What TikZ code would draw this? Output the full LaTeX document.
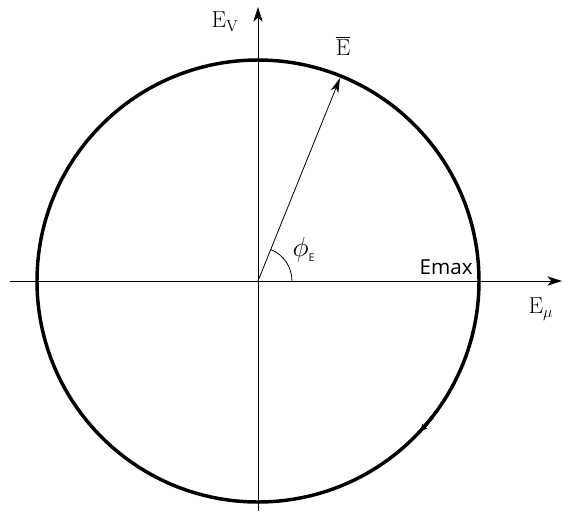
\documentclass[tikz,border=0pt]{standalone}
\usepackage{fontspec}
\newfontfamily\labelsans{Open Sans}
\usetikzlibrary{arrows.meta}

\tikzset{
  axis/.style={line width=0.6pt,-{Stealth[length=11pt,width=7pt,inset=3pt]}},
  ring/.style={line width=2.6pt},
}

\begin{document}
\begin{tikzpicture}[x=0.75pt,y=0.75pt,yscale=-1,xscale=1]
			\useasboundingbox (0,0) rectangle (563,515);
			
			\coordinate (O) at (258,281);
			\coordinate (xstart) at (10,281);
			\coordinate (xend) at (562,281);
			\coordinate (ystart) at (258,511);
			\coordinate (yend) at (258,7);
			\coordinate (Etip) at ([shift={(-68:219)}]O);
			
			%Shape: Circle
			\draw [ring] (O) circle [radius=221];
			%Straight Lines
			\draw [axis] (xstart) -- (xend);
			\draw [axis] (ystart) -- (yend);
			
			%Straight Lines
			\draw [line width=0.6pt,-{Stealth[length=11pt,width=6pt,inset=3pt]}] (O) -- (Etip);
			%Curve Lines
			\draw [line width=0.6pt] ([shift={(34,0)}]O) arc [start angle=0, end angle=-68, radius=34];
			%Curve Lines
			\draw [line width=2.6pt,-{Stealth[length=6pt,width=5pt]}] ([shift={(38:221)}]O) arc [start angle=38, end angle=43, radius=221];
			
			% Text Node
			\node (Ev) at (225,22) [inner sep=0.75pt] {\LARGE$\mathrm{E}_{\mathrm{V}}$};
			% Text Node
			\node (Ebar) at (343,46) [inner sep=0.75pt] {\LARGE$\overline{\mathrm{E}}$};
			% Text Node
			\node (phi) at (304,250) [inner sep=0.75pt] {\huge$\phi_{\mbox{\footnotesize\labelsans E}}$};
			% Text Node
			\node (Emax) at (474,274) [anchor=base east,inner sep=0.75pt] {\labelsans\fontsize{15.5}{18}\selectfont Emax};
			% Text Node
			\node (Emu) at (541,309) [inner sep=0.75pt] {\LARGE$\mathrm{E}_{\mu}$};
\end{tikzpicture}
\end{document}
